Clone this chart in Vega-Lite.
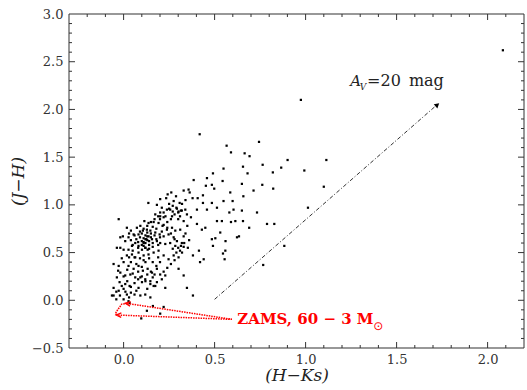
{
  "$schema": "https://vega.github.io/schema/vega-lite/v6.json",
  "autosize": {"type": "none"},
  "padding": {"left": 66, "top": 11, "right": 0, "bottom": 39},
  "width": 461,
  "height": 340,
  "config": {
    "view": {"stroke": null},
    "scale": {"continuousPadding": 3},
    "bar": {"continuousBandSize": 3},
    "axis": {"domain": false, "ticks": false, "labelFont": "DejaVu Serif", "labelFontSize": 13, "labelColor": "#333", "grid": false, "labelFlush": false, "labelOverlap": false, "titleFont": "DejaVu Serif", "titleFontStyle": "italic", "titleFontSize": 17, "titleFontWeight": "normal", "titleColor": "#222"}
  },
  "datasets": {
    "stars": [
      {"hk":2.084,"jh":2.62},{"hk":0.974,"jh":2.10},{"hk":0.418,"jh":1.74},{"hk":0.566,"jh":1.62},{"hk":0.59,"jh":1.55},{"hk":0.744,"jh":1.66},{"hk":0.665,"jh":1.54},{"hk":0.692,"jh":1.51},{"hk":0.764,"jh":1.42},{"hk":0.901,"jh":1.47},{"hk":1.114,"jh":1.47},{"hk":0.993,"jh":1.36},{"hk":0.866,"jh":1.39},{"hk":0.82,"jh":1.34},{"hk":0.762,"jh":1.21},{"hk":0.822,"jh":1.17},{"hk":1.10,"jh":1.19},{"hk":1.013,"jh":0.97},{"hk":0.788,"jh":0.80},{"hk":0.828,"jh":0.80},{"hk":0.883,"jh":0.57},{"hk":0.767,"jh":0.37},
      {"hk":0.42,"jh":0.40},{"hk":0.414,"jh":0.52},{"hk":0.56,"jh":0.62},{"hk":0.546,"jh":0.49},{"hk":0.623,"jh":0.66},{"hk":0.504,"jh":0.65},
      {"hk":0.549,"jh":1.38},{"hk":0.656,"jh":1.40},{"hk":0.491,"jh":1.33},{"hk":0.458,"jh":1.28},{"hk":0.681,"jh":1.33},{"hk":0.385,"jh":1.26},{"hk":0.452,"jh":1.20},{"hk":0.485,"jh":1.21},{"hk":0.544,"jh":1.25},{"hk":0.650,"jh":1.22},{"hk":0.714,"jh":1.15},{"hk":0.436,"jh":1.10},{"hk":0.498,"jh":1.17},{"hk":0.586,"jh":1.13},{"hk":0.658,"jh":1.09},{"hk":0.599,"jh":1.04},{"hk":0.330,"jh":1.15},{"hk":0.262,"jh":1.13},{"hk":0.288,"jh":1.09},{"hk":0.242,"jh":1.11},{"hk":0.234,"jh":1.07},{"hk":0.201,"jh":1.06},{"hk":0.275,"jh":1.04},{"hk":0.363,"jh":1.13},{"hk":0.357,"jh":1.16},{"hk":0.379,"jh":1.07},{"hk":0.407,"jh":1.07},{"hk":0.308,"jh":1.02},{"hk":0.315,"jh":0.94},{"hk":0.339,"jh":0.95},{"hk":0.293,"jh":0.96},{"hk":0.321,"jh":1.01},{"hk":0.136,"jh":1.02},{"hk":0.183,"jh":1.00},{"hk":0.201,"jh":0.92},{"hk":0.238,"jh":0.95},{"hk":0.201,"jh":0.88},{"hk":0.174,"jh":0.90},{"hk":0.220,"jh":0.87},{"hk":0.256,"jh":0.95},{"hk":0.266,"jh":0.88},{"hk":0.302,"jh":0.93},{"hk":0.348,"jh":0.90},{"hk":0.370,"jh":0.87},{"hk":0.403,"jh":0.95},{"hk":0.436,"jh":1.02},{"hk":0.458,"jh":0.95},{"hk":0.485,"jh":1.02},{"hk":0.513,"jh":0.97},{"hk":0.549,"jh":1.04},{"hk":0.581,"jh":0.92},{"hk":0.604,"jh":0.95},{"hk":0.650,"jh":0.94},{"hk":0.733,"jh":0.92},{"hk":0.403,"jh":0.80},{"hk":0.430,"jh":0.74},{"hk":0.449,"jh":0.76},{"hk":0.513,"jh":0.83},{"hk":0.540,"jh":0.83},{"hk":0.590,"jh":0.82},{"hk":0.614,"jh":0.83},{"hk":0.656,"jh":0.83},{"hk":0.690,"jh":0.76},{"hk":0.634,"jh":0.67},{"hk":0.531,"jh":0.71},{"hk":0.485,"jh":0.64},{"hk":0.491,"jh":0.57},{"hk":0.559,"jh":0.52},{"hk":0.555,"jh":0.43},{"hk":0.440,"jh":0.43},{"hk":0.381,"jh":0.47},{"hk":0.353,"jh":0.55},{"hk":0.333,"jh":0.60},{"hk":0.330,"jh":0.67},{"hk":0.311,"jh":0.74},{"hk":0.284,"jh":0.73},{"hk":0.266,"jh":0.76},{"hk":0.238,"jh":0.74},{"hk":0.214,"jh":0.78},{"hk":0.192,"jh":0.81},{"hk":0.165,"jh":0.82},{"hk":0.137,"jh":0.81},{"hk":0.114,"jh":0.83},{"hk":0.092,"jh":0.78},{"hk":0.073,"jh":0.76},{"hk":-0.027,"jh":0.85},{"hk":0.018,"jh":0.76},{"hk":0.040,"jh":0.73},{"hk":-0.004,"jh":0.67},{"hk":-0.018,"jh":0.66},{"hk":0.009,"jh":0.62},{"hk":0.027,"jh":0.66},{"hk":0.055,"jh":0.69},{"hk":0.082,"jh":0.69},{"hk":0.106,"jh":0.73},{"hk":0.128,"jh":0.74},{"hk":0.147,"jh":0.73},{"hk":0.174,"jh":0.71},{"hk":0.198,"jh":0.69},{"hk":0.220,"jh":0.67},{"hk":0.247,"jh":0.69},{"hk":0.275,"jh":0.66},{"hk":0.293,"jh":0.62},{"hk":0.315,"jh":0.57},{"hk":0.284,"jh":0.57},{"hk":0.256,"jh":0.60},{"hk":0.229,"jh":0.59},{"hk":0.201,"jh":0.60},{"hk":0.183,"jh":0.62},{"hk":0.156,"jh":0.64},{"hk":0.137,"jh":0.67},{"hk":0.125,"jh":0.64},{"hk":0.110,"jh":0.60},{"hk":0.119,"jh":0.55},{"hk":0.132,"jh":0.53},{"hk":0.101,"jh":0.53},{"hk":0.082,"jh":0.57},{"hk":0.064,"jh":0.60},{"hk":0.046,"jh":0.57},{"hk":0.027,"jh":0.53},{"hk":0.000,"jh":0.53},{"hk":-0.018,"jh":0.55},{"hk":-0.037,"jh":0.55},{"hk":0.018,"jh":0.47},{"hk":0.046,"jh":0.48},{"hk":0.064,"jh":0.45},{"hk":0.082,"jh":0.50},{"hk":0.110,"jh":0.47},{"hk":0.137,"jh":0.48},{"hk":0.165,"jh":0.50},{"hk":0.192,"jh":0.52},{"hk":0.220,"jh":0.47},{"hk":0.247,"jh":0.43},{"hk":0.275,"jh":0.47},{"hk":0.302,"jh":0.45},{"hk":0.321,"jh":0.50},{"hk":-0.055,"jh":0.38},{"hk":-0.027,"jh":0.36},{"hk":0.000,"jh":0.40},{"hk":0.027,"jh":0.36},{"hk":0.055,"jh":0.33},{"hk":0.082,"jh":0.36},{"hk":0.106,"jh":0.31},{"hk":0.132,"jh":0.33},{"hk":0.156,"jh":0.29},{"hk":0.183,"jh":0.33},{"hk":0.201,"jh":0.27},{"hk":0.229,"jh":0.26},{"hk":0.302,"jh":0.33},{"hk":-0.018,"jh":0.29},{"hk":0.009,"jh":0.26},{"hk":0.037,"jh":0.27},{"hk":0.064,"jh":0.24},{"hk":0.092,"jh":0.24},{"hk":0.119,"jh":0.22},{"hk":0.147,"jh":0.20},{"hk":0.183,"jh":0.19},{"hk":-0.037,"jh":0.24},{"hk":-0.055,"jh":0.13},{"hk":-0.022,"jh":0.19},{"hk":0.009,"jh":0.17},{"hk":0.033,"jh":0.15},{"hk":0.082,"jh":0.13},{"hk":0.101,"jh":0.19},{"hk":0.147,"jh":0.17},{"hk":0.174,"jh":0.15},{"hk":0.229,"jh":0.13},{"hk":0.330,"jh":0.26},{"hk":-0.055,"jh":0.05},{"hk":-0.027,"jh":0.10},{"hk":0.000,"jh":0.12},{"hk":0.018,"jh":0.06},{"hk":0.040,"jh":0.08},{"hk":0.070,"jh":0.10},{"hk":0.092,"jh":0.05},{"hk":0.119,"jh":0.06},{"hk":0.147,"jh":0.03},{"hk":0.165,"jh":0.15},{"hk":-0.064,"jh":0.05},{"hk":-0.040,"jh":0.01},{"hk":0.000,"jh":0.01},{"hk":0.027,"jh":-0.01},{"hk":0.348,"jh":0.13},{"hk":0.381,"jh":0.05},{"hk":0.161,"jh":-0.06},{"hk":0.201,"jh":-0.14},{"hk":0.220,"jh":-0.07},{"hk":0.128,"jh":-0.11},{"hk":0.097,"jh":-0.19},{"hk":0.033,"jh":-0.03},
      {"hk":0.10,"jh":0.62},{"hk":0.11,"jh":0.65},{"hk":0.12,"jh":0.60},{"hk":0.13,"jh":0.63},{"hk":0.12,"jh":0.68},{"hk":0.09,"jh":0.66},{"hk":0.14,"jh":0.58},{"hk":0.11,"jh":0.57},{"hk":0.10,"jh":0.70},{"hk":0.13,"jh":0.71},{"hk":0.15,"jh":0.66},{"hk":0.08,"jh":0.61},{"hk":0.07,"jh":0.64},{"hk":0.12,"jh":0.55},{"hk":0.14,"jh":0.62},{"hk":0.16,"jh":0.60},{"hk":0.11,"jh":0.61},{"hk":0.12,"jh":0.64},{"hk":0.10,"jh":0.58},{"hk":0.13,"jh":0.67},{"hk":0.09,"jh":0.72},{"hk":0.06,"jh":0.68},{"hk":0.15,"jh":0.70},{"hk":0.17,"jh":0.68},{"hk":0.05,"jh":0.58},{"hk":0.14,"jh":0.54},{"hk":0.16,"jh":0.56},{"hk":0.18,"jh":0.64},{"hk":0.08,"jh":0.55},{"hk":0.19,"jh":0.58},{"hk":0.20,"jh":0.66},{"hk":0.04,"jh":0.63},{"hk":0.03,"jh":0.70},{"hk":0.11,"jh":0.75},{"hk":0.13,"jh":0.78},{"hk":0.16,"jh":0.77},{"hk":0.18,"jh":0.75},{"hk":0.21,"jh":0.72},{"hk":0.22,"jh":0.79},{"hk":0.24,"jh":0.82},{"hk":0.20,"jh":0.85},{"hk":0.23,"jh":0.88},{"hk":0.26,"jh":0.85},{"hk":0.28,"jh":0.90},{"hk":0.30,"jh":0.92},{"hk":0.31,"jh":0.88},{"hk":0.29,"jh":0.97},{"hk":0.27,"jh":0.93},{"hk":0.25,"jh":0.96},{"hk":0.32,"jh":0.94},{"hk":0.30,"jh":0.85},{"hk":0.22,"jh":0.92},{"hk":0.19,"jh":0.88},{"hk":0.17,"jh":0.85},{"hk":0.15,"jh":0.82},{"hk":0.24,"jh":0.76},{"hk":0.26,"jh":0.70},{"hk":0.28,"jh":0.64},{"hk":0.30,"jh":0.55},{"hk":0.31,"jh":0.52},{"hk":0.32,"jh":0.60},{"hk":0.33,"jh":0.56},{"hk":0.29,"jh":0.50},{"hk":0.27,"jh":0.54},{"hk":0.06,"jh":0.45},{"hk":0.04,"jh":0.40},{"hk":0.07,"jh":0.38},{"hk":0.02,"jh":0.32},{"hk":0.05,"jh":0.28},{"hk":0.08,"jh":0.30},{"hk":0.10,"jh":0.35},{"hk":0.12,"jh":0.40},{"hk":0.14,"jh":0.44},{"hk":0.16,"jh":0.40},{"hk":0.10,"jh":0.25},{"hk":0.13,"jh":0.27},{"hk":0.16,"jh":0.24},{"hk":0.12,"jh":0.20},{"hk":0.15,"jh":0.30},{"hk":0.02,"jh":0.20},{"hk":0.00,"jh":0.25},{"hk":-0.01,"jh":0.15},{"hk":0.01,"jh":0.09},{"hk":0.03,"jh":0.03},{"hk":-0.02,"jh":0.05},{"hk":0.04,"jh":0.14},{"hk":0.06,"jh":0.18},{"hk":0.08,"jh":0.22},{"hk":0.18,"jh":0.36},{"hk":0.20,"jh":0.40},{"hk":0.22,"jh":0.30},{"hk":0.24,"jh":0.34},{"hk":0.26,"jh":0.38},{"hk":0.28,"jh":0.42},
      {"hk":0.25,"jh":1.01},{"hk":0.27,"jh":0.99},{"hk":0.21,"jh":0.97},{"hk":0.34,"jh":1.05},{"hk":0.33,"jh":0.83},{"hk":0.35,"jh":0.78},{"hk":0.34,"jh":0.70},{"hk":0.36,"jh":0.63},{"hk":0.05,"jh":0.52},{"hk":0.03,"jh":0.45},{"hk":-0.01,"jh":0.44},{"hk":-0.03,"jh":0.31},{"hk":0.11,"jh":0.42},{"hk":0.09,"jh":0.44},{"hk":0.19,"jh":0.45},{"hk":0.17,"jh":0.27},{"hk":0.21,"jh":0.22},{"hk":0.13,"jh":0.12},{"hk":0.06,"jh":0.06},{"hk":-0.04,"jh":0.09}
    ],
    "frame": [{"part": "frame"}],
    "xmajor": [{"v":0},{"v":0.5},{"v":1},{"v":1.5},{"v":2}],
    "xminor": [{"v":-0.2},{"v":-0.1},{"v":0.1},{"v":0.2},{"v":0.3},{"v":0.4},{"v":0.6},{"v":0.7},{"v":0.8},{"v":0.9},{"v":1.1},{"v":1.2},{"v":1.3},{"v":1.4},{"v":1.6},{"v":1.7},{"v":1.8},{"v":1.9},{"v":2.1}],
    "ymajor": [{"v":0},{"v":0.5},{"v":1},{"v":1.5},{"v":2},{"v":2.5}],
    "yminor": [{"v":-0.4},{"v":-0.3},{"v":-0.2},{"v":-0.1},{"v":0.1},{"v":0.2},{"v":0.3},{"v":0.4},{"v":0.6},{"v":0.7},{"v":0.8},{"v":0.9},{"v":1.1},{"v":1.2},{"v":1.3},{"v":1.4},{"v":1.6},{"v":1.7},{"v":1.8},{"v":1.9},{"v":2.1},{"v":2.2},{"v":2.3},{"v":2.4},{"v":2.6},{"v":2.7},{"v":2.8},{"v":2.9}],
    "reddening": [{"hk":0.5,"jh":0.01},{"hk":1.72,"jh":2.045}],
    "arrowhead": [{"hk":1.724,"jh":2.049}],
    "zams": [
      {"seg":"u","ord":1,"hk":0.02,"jh":-0.033},{"seg":"u","ord":2,"hk":0.595,"jh":-0.20},
      {"seg":"l","ord":1,"hk":-0.03,"jh":-0.155},{"seg":"l","ord":2,"hk":0.595,"jh":-0.20},
      {"seg":"z","ord":1,"hk":0.02,"jh":-0.033},{"seg":"z","ord":2,"hk":-0.01,"jh":-0.04},{"seg":"z","ord":3,"hk":-0.04,"jh":-0.12},{"seg":"z","ord":4,"hk":-0.045,"jh":-0.145},{"seg":"z","ord":5,"hk":-0.03,"jh":-0.155}
    ],
    "heads": [{"hk":0.02,"jh":-0.033,"ang":9},{"hk":-0.03,"jh":-0.155,"ang":2}]
  },
  "layer": [
    {
      "data": {"name": "stars"},
      "mark": {"type": "square", "size": 5, "filled": true, "color": "black", "opacity": 1},
      "encoding": {
        "x": {"field": "hk", "type": "quantitative", "scale": {"domain": [-0.3, 2.2], "nice": false, "zero": false},
              "axis": {"orient": "bottom", "values": [0, 0.5, 1, 1.5, 2], "format": ".1f", "labelPadding": 2, "title": "(H−Ks)", "titleX": 230.5, "titleY": 24, "titleBaseline": "middle", "titleAlign": "center"}},
        "y": {"field": "jh", "type": "quantitative", "scale": {"domain": [-0.5, 3.0], "nice": false, "zero": false},
              "axis": {"orient": "left", "values": [-0.5, 0, 0.5, 1, 1.5, 2, 2.5, 3], "format": ".1f", "labelPadding": 3, "title": "(J−H)", "titleX": -48, "titleY": 170, "titleBaseline": "middle", "titleAlign": "center", "titleAngle": -90}}
      }
    },
    {
      "data": {"name": "frame"},
      "mark": {"type": "bar", "color": "#333", "height": 1},
      "encoding": {"x": {"datum": -0.3}, "x2": {"datum": 2.2}, "y": {"datum": -0.5}}
    },
    {
      "data": {"name": "frame"},
      "mark": {"type": "bar", "color": "#333", "height": 1},
      "encoding": {"x": {"datum": -0.3}, "x2": {"datum": 2.2}, "y": {"datum": 3.0}}
    },
    {
      "data": {"name": "frame"},
      "mark": {"type": "bar", "color": "#333", "width": 1},
      "encoding": {"y": {"datum": -0.5}, "y2": {"datum": 3.0}, "x": {"datum": -0.3}}
    },
    {
      "data": {"name": "frame"},
      "mark": {"type": "bar", "color": "#333", "width": 1},
      "encoding": {"y": {"datum": -0.5}, "y2": {"datum": 3.0}, "x": {"datum": 2.2}}
    },
    {
      "data": {"name": "xmajor"},
      "mark": {"type": "bar", "color": "#333", "width": 1},
      "encoding": {"x": {"field": "v", "type": "quantitative"}, "y": {"datum": -0.5}, "y2": {"datum": -0.437}}
    },
    {
      "data": {"name": "xmajor"},
      "mark": {"type": "bar", "color": "#333", "width": 1},
      "encoding": {"x": {"field": "v", "type": "quantitative"}, "y": {"datum": 3.0}, "y2": {"datum": 2.937}}
    },
    {
      "data": {"name": "xminor"},
      "mark": {"type": "bar", "color": "#333", "width": 1},
      "encoding": {"x": {"field": "v", "type": "quantitative"}, "y": {"datum": -0.5}, "y2": {"datum": -0.4686}}
    },
    {
      "data": {"name": "xminor"},
      "mark": {"type": "bar", "color": "#333", "width": 1},
      "encoding": {"x": {"field": "v", "type": "quantitative"}, "y": {"datum": 3.0}, "y2": {"datum": 2.9686}}
    },
    {
      "data": {"name": "ymajor"},
      "mark": {"type": "bar", "color": "#333", "height": 1},
      "encoding": {"y": {"field": "v", "type": "quantitative"}, "x": {"datum": -0.3}, "x2": {"datum": -0.267}}
    },
    {
      "data": {"name": "ymajor"},
      "mark": {"type": "bar", "color": "#333", "height": 1},
      "encoding": {"y": {"field": "v", "type": "quantitative"}, "x": {"datum": 2.2}, "x2": {"datum": 2.167}}
    },
    {
      "data": {"name": "yminor"},
      "mark": {"type": "bar", "color": "#333", "height": 1},
      "encoding": {"y": {"field": "v", "type": "quantitative"}, "x": {"datum": -0.3}, "x2": {"datum": -0.2835}}
    },
    {
      "data": {"name": "yminor"},
      "mark": {"type": "bar", "color": "#333", "height": 1},
      "encoding": {"y": {"field": "v", "type": "quantitative"}, "x": {"datum": 2.2}, "x2": {"datum": 2.1835}}
    },
    {
      "data": {"name": "reddening"},
      "mark": {"type": "line", "color": "#333", "strokeWidth": 1, "strokeDash": [4, 2, 1, 2]},
      "encoding": {"x": {"field": "hk", "type": "quantitative"}, "y": {"field": "jh", "type": "quantitative"}}
    },
    {
      "data": {"name": "zams"},
      "mark": {"type": "line", "color": "#ff0000", "strokeWidth": 1.5, "strokeDash": [1.5, 1]},
      "encoding": {"detail": {"field": "seg"}, "order": {"field": "ord"}, "x": {"field": "hk", "type": "quantitative"}, "y": {"field": "jh", "type": "quantitative"}}
    },
    {
      "data": {"name": "arrowhead"},
      "mark": {"type": "point", "shape": "triangle-up", "size": 30, "filled": true, "color": "black", "opacity": 1, "angle": 49},
      "encoding": {"x": {"field": "hk", "type": "quantitative"}, "y": {"field": "jh", "type": "quantitative"}}
    },
    {
      "data": {"name": "heads"},
      "mark": {"type": "point", "shape": "M1,-0.7L-0.6,0L1,0.7", "size": 40, "filled": false, "color": "#ff0000", "strokeWidth": 1.3, "opacity": 1},
      "encoding": {"angle": {"field": "ang", "type": "quantitative", "scale": null}, "x": {"field": "hk", "type": "quantitative"}, "y": {"field": "jh", "type": "quantitative"}}
    },
    {
      "data": {"values": [{"hk": 1.245, "jh": 2.30, "t": "A"}]},
      "mark": {"type": "text", "font": "DejaVu Serif", "fontStyle": "italic", "fontSize": 15, "align": "left", "baseline": "middle", "color": "#222"},
      "encoding": {"text": {"field": "t"}, "x": {"field": "hk", "type": "quantitative"}, "y": {"field": "jh", "type": "quantitative"}}
    },
    {
      "data": {"values": [{"hk": 1.297, "jh": 2.24, "t": "V"}]},
      "mark": {"type": "text", "font": "DejaVu Serif", "fontStyle": "italic", "fontSize": 9, "align": "left", "baseline": "middle", "color": "#222"},
      "encoding": {"text": {"field": "t"}, "x": {"field": "hk", "type": "quantitative"}, "y": {"field": "jh", "type": "quantitative"}}
    },
    {
      "data": {"values": [{"hk": 1.338, "jh": 2.30, "t": "=20\u2002mag"}]},
      "mark": {"type": "text", "font": "DejaVu Serif", "fontSize": 16, "align": "left", "baseline": "middle", "color": "#222"},
      "encoding": {"text": {"field": "t"}, "x": {"field": "hk", "type": "quantitative"}, "y": {"field": "jh", "type": "quantitative"}}
    },
    {
      "data": {"values": [{"hk": 0.625, "jh": -0.20, "t": "ZAMS, 60 − 3 M"}]},
      "mark": {"type": "text", "font": "DejaVu Serif", "fontSize": 15, "fontWeight": "bold", "align": "left", "baseline": "middle", "color": "#ff0000"},
      "encoding": {"text": {"field": "t"}, "x": {"field": "hk", "type": "quantitative"}, "y": {"field": "jh", "type": "quantitative"}}
    },
    {
      "data": {"values": [{"hk": 1.40, "jh": -0.265, "t": "⊙"}]},
      "mark": {"type": "text", "font": "DejaVu Sans", "fontSize": 12, "align": "center", "baseline": "middle", "color": "#ff0000"},
      "encoding": {"text": {"field": "t"}, "x": {"field": "hk", "type": "quantitative"}, "y": {"field": "jh", "type": "quantitative"}}
    }
  ]
}
